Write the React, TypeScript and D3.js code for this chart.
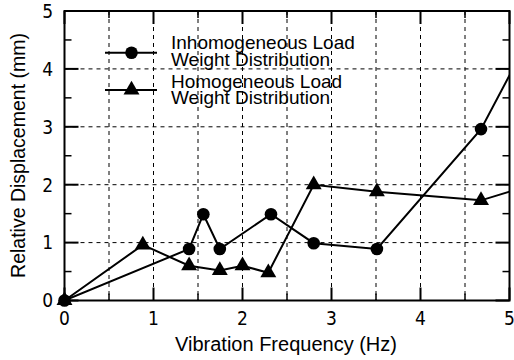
import React from "react";
import * as d3 from "d3";

const freqInhomo = [0, 1.4, 1.56, 1.745, 2.32, 2.8, 3.51, 4.68, 5.3];
const dispInhomo = [0, 0.89, 1.49, 0.89, 1.49, 0.99, 0.89, 2.96, 4.76];
const freqHomo = [0, 0.88, 1.4, 1.745, 2.0, 2.29, 2.8, 3.51, 4.68, 5.3];
const dispHomo = [0, 0.96, 0.6, 0.52, 0.6, 0.48, 2.0, 1.88, 1.73, 2.02];
const xTicks = [0, 1, 2, 3, 4, 5];
const yTicks = [0, 1, 2, 3, 4, 5];
const minorTicks = [0.5, 1.5, 2.5, 3.5, 4.5];
const legendLabels = [
  ["Inhomogeneous Load", "Weight Distribution"],
  ["Homogeneous Load", "Weight Distribution"],
];

const W = 514;
const H = 360;
const L = 64.5, R = 509.5, T = 11, B = 300.5;

export default function App() {
  const x = d3.scaleLinear().domain([0, 5]).range([L, R]);
  const y = d3.scaleLinear().domain([0, 5]).range([B, T]);
  const line = d3
    .line<[number, number]>()
    .x((d) => x(d[0]))
    .y((d) => y(d[1]));
  const ptsA: [number, number][] = freqInhomo.map((f, i) => [f, dispInhomo[i]]);
  const ptsB: [number, number][] = freqHomo.map((f, i) => [f, dispHomo[i]]);
  const tri = d3.symbol(d3.symbolTriangle, 110)()!;
  const tickFont = "'Liberation Sans Narrow', 'Arial Narrow', 'DejaVu Sans Condensed', sans-serif";
  const font = "'Liberation Sans', Arial, sans-serif";

  return (
    <svg width={W} height={H} style={{ position: "absolute", left: 0, top: 0, background: "#fff" }}>
      <defs>
        <clipPath id="plot">
          <rect x={L} y={T} width={R - L} height={B - T} />
        </clipPath>
        <clipPath id="marks">
          <rect x={L - 12} y={T} width={R - L + 12} height={B - T + 12} />
        </clipPath>
      </defs>
      <rect x={0} y={0} width={W} height={H} fill="#fff" />
      {/* grid */}
      {[...minorTicks, 1, 2, 3, 4].map((v) => (
        <line key={"gx" + v} x1={x(v)} x2={x(v)} y1={T} y2={B} stroke="#000" strokeWidth={1} strokeDasharray="4,4" />
      ))}
      {[1, 2, 3, 4].map((v) => (
        <line key={"gy" + v} x1={L} x2={R} y1={y(v)} y2={y(v)} stroke="#000" strokeWidth={1} strokeDasharray="4,4" />
      ))}
      {/* ticks */}
      {xTicks.map((v) => (
        <g key={"xt" + v}>
          <line x1={x(v)} x2={x(v)} y1={B} y2={B - 13} stroke="#000" strokeWidth={2} />
          <line x1={x(v)} x2={x(v)} y1={T} y2={T + 13} stroke="#000" strokeWidth={2} />
        </g>
      ))}
      {minorTicks.map((v) => (
        <g key={"xm" + v}>
          <line x1={x(v)} x2={x(v)} y1={B} y2={B - 7} stroke="#000" strokeWidth={1.5} />
          <line x1={x(v)} x2={x(v)} y1={T} y2={T + 7} stroke="#000" strokeWidth={1.5} />
          <line x1={L} x2={L + 7} y1={y(v)} y2={y(v)} stroke="#000" strokeWidth={1.5} />
          <line x1={R} x2={R - 7} y1={y(v)} y2={y(v)} stroke="#000" strokeWidth={1.5} />
        </g>
      ))}
      {yTicks.map((v) => (
        <g key={"yt" + v}>
          <line x1={L} x2={L + 14} y1={y(v)} y2={y(v)} stroke="#000" strokeWidth={2} />
          <line x1={R} x2={R - 14} y1={y(v)} y2={y(v)} stroke="#000" strokeWidth={2} />
        </g>
      ))}
      {/* frame */}
      <rect x={L} y={T} width={R - L} height={B - T} fill="none" stroke="#000" strokeWidth={2} />
      {/* data */}
      <g clipPath="url(#plot)">
        <path d={line(ptsA) || ""} fill="none" stroke="#000" strokeWidth={2} />
        <path d={line(ptsB) || ""} fill="none" stroke="#000" strokeWidth={2} />
      </g>
      <g clipPath="url(#marks)">
        {ptsA.map((p, i) => (
          <circle key={"ca" + i} cx={x(p[0])} cy={y(p[1])} r={6.3} fill="#000" />
        ))}
        {ptsB.map((p, i) => (
          <path key={"tb" + i} d={tri} transform={`translate(${x(p[0])},${y(p[1])})`} fill="#000" />
        ))}
      </g>
      {/* tick labels */}
      {xTicks.map((v) => (
        <text key={"xl" + v} x={x(v)} y={325} textAnchor="middle" fontFamily={tickFont} fontSize={19} fill="#000">
          {v}
        </text>
      ))}
      {yTicks.map((v) => (
        <text key={"yl" + v} x={53} y={y(v) + 6.8} textAnchor="end" fontFamily={tickFont} fontSize={19} fill="#000">
          {v}
        </text>
      ))}
      {/* axis titles */}
      <text x={286} y={351} textAnchor="middle" fontFamily={font} fontSize={20} fill="#000">
        Vibration Frequency (Hz)
      </text>
      <text
        transform={`translate(25,155.5) rotate(-90)`}
        textAnchor="middle"
        fontFamily={font}
        fontSize={19.5}
        fill="#000"
      >
        Relative Displacement (mm)
      </text>
      {/* legend */}
      <g>
        <line x1={105} x2={157} y1={52.7} y2={52.7} stroke="#000" strokeWidth={2} />
        <circle cx={131.5} cy={52.7} r={6.3} fill="#000" />
        <line x1={105} x2={157} y1={90} y2={90} stroke="#000" strokeWidth={2} />
        <path d={tri} transform={`translate(131.5,90)`} fill="#000" />
        {legendLabels.map((lines, i) => (
          <text key={"lg" + i} x={171} y={49 + i * 38.5} fontFamily={font} fontSize={19} fill="#000">
            <tspan x={171} dy={0}>{lines[0]}</tspan>
            <tspan x={171} dy={16.5}>{lines[1]}</tspan>
          </text>
        ))}
      </g>
    </svg>
  );
}
